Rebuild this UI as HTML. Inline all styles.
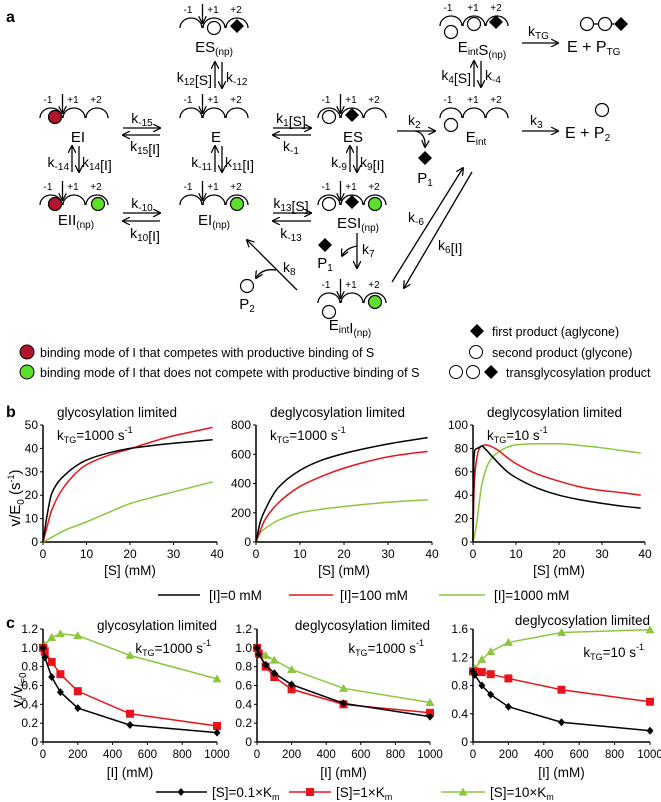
<!DOCTYPE html>
<html><head><meta charset="utf-8">
<style>
html,body{margin:0;padding:0;background:#fff;}
svg{display:block;font-family:"Liberation Sans",Arial,sans-serif;}
</style></head>
<body>
<svg id="fig" width="661" height="802" viewBox="0 0 661 802" xmlns="http://www.w3.org/2000/svg">
<defs>
<marker id="ah" viewBox="0 0 10 10" refX="9" refY="5" markerWidth="6" markerHeight="6" orient="auto-start-reverse"><path d="M0,0 L10,5 L0,10" fill="none" stroke="#000" stroke-width="1.6"/></marker>
</defs>
<g id="diagram" stroke-width="1.3">
<text x="6" y="22" font-weight="bold" font-size="16">a</text>
</g>
<g id="legendA"></g>
<g id="panelB"></g>
<g id="panelC"></g>
</svg>
<script>
// ---------- DATA ----------
const bS = [0,1,2,5,10,15,20,25,30,35,39];
const b1Black = [0,12,20.7,28.6,35,38,40,41.2,42.2,43,43.7];
const b1Red = [0,7,13.6,24,33,37,39.8,42.8,45.4,47.4,49];
const b1Green = [0,1,2,5,8.6,12.6,16.4,19,21.4,23.8,25.7];
const b2Black = [0,140,215,370,490,560,605,640,670,695,714];
const b2Red = [0,80,150,265,380,450,505,548,582,605,619];
const b2Green = [0,65,91,147,200,225,243,258,272,282,288];
const b3S = [0,0.2,0.5,1,1.5,2,3,4,6,8,10,15,20,25,30,35,39];
const b3Black = [0,70,79,80,81,82,79,75,67,60,55,46,40,36,33,30.5,29];
const b3Red = [0,40,60,74,80,82,83,82,78,72,67,58,52,47,44,42,40];
const b3Green = [0,3,8,20,35,48,62,70,77,81,83,84,84,82.5,80.5,78,76];
const bXTicks = [0,10,20,30,40];
const b1YTicks = [0,10,20,30,40,50];
const b2YTicks = [0,200,400,600,800];
const b3YTicks = [0,20,40,60,80,100];

const cI = [0,10,50,100,200,500,1000];
const c1Black = [1,0.9,0.69,0.53,0.36,0.18,0.1];
const c1Red = [1,0.96,0.85,0.72,0.54,0.3,0.17];
const c1Green = [1,1.03,1.11,1.15,1.13,0.92,0.67];
const c2Black = [1,0.93,0.82,0.73,0.61,0.41,0.27];
const c2Red = [1,0.94,0.8,0.69,0.56,0.4,0.31];
const c2Green = [1,0.97,0.92,0.87,0.77,0.57,0.42];
const c3Black = [1,0.95,0.8,0.67,0.5,0.28,0.16];
const c3Red = [1,1,0.99,0.96,0.9,0.74,0.57];
const c3Green = [1,1.04,1.17,1.28,1.41,1.55,1.59];
const cXTicks = [0,200,400,600,800,1000];
const c12YTicks = [0,0.2,0.4,0.6,0.8,1.0,1.2];
const c12YLabels = ["0","0.2","0.4","0.6","0.8","1.0","1.2"];
const c3YTicks = [0,0.4,0.8,1.2,1.6];
const c3YLabels = ["0","0.4","0.8","1.2","1.6"];

const BLACK="#000", RED="#e8141b", GREEN="#8cc63f";
const NS="http://www.w3.org/2000/svg";
function el(tag, attrs, parent){const e=document.createElementNS(NS,tag);for(const k in attrs)e.setAttribute(k,attrs[k]);parent.appendChild(e);return e;}
function txt(parent,x,y,s,size,anchor){const t=el('text',{x:x,y:y,'font-size':size,'text-anchor':anchor||'start'},parent);t.textContent=s;return t;}
function linScale(d0,d1,r0,r1){return v=>r0+(v-d0)/(d1-d0)*(r1-r0);}
function smoothPath(P){
  const n=P.length; const dx=[],m=[],t=[];
  for(let i=0;i<n-1;i++){dx[i]=P[i+1][0]-P[i][0];m[i]=(P[i+1][1]-P[i][1])/dx[i];}
  t[0]=m[0];t[n-1]=m[n-2];
  for(let i=1;i<n-1;i++){ if(m[i-1]*m[i]<=0) t[i]=0; else { const w1=2*dx[i]+dx[i-1], w2=dx[i]+2*dx[i-1]; t[i]=(w1+w2)/(w1/m[i-1]+w2/m[i]); } }
  let d='M'+P[0][0]+' '+P[0][1];
  for(let i=0;i<n-1;i++){const h=dx[i]/3;
    d+=` C${P[i][0]+h} ${P[i][1]+t[i]*h} ${P[i+1][0]-h} ${P[i+1][1]-t[i+1]*h} ${P[i+1][0]} ${P[i+1][1]}`;}
  return d;
}

// ---------- PANEL B ----------
const pB=document.getElementById('panelB');
const bLab=txt(pB,6,417,'b',16);bLab.setAttribute('font-weight','bold');


const yl=el('text',{transform:'translate(20,498) rotate(-90)','font-size':15,'text-anchor':'middle'},pB);


yl.innerHTML='v/E<tspan font-size="10" dy="4">0</tspan><tspan dy="-4"> (s</tspan><tspan font-size="9" dy="-6">-1</tspan><tspan dy="6">)</tspan>';

function drawB(x0,x1,ymax,yTicks,title,ktg,xs,series){
  const g=el('g',{},pB);
  
  
  const X=linScale(0,40,x0,x1), Y=linScale(0,ymax,542,425);
  el('line',{x1:x0,y1:425,x2:x0,y2:542,stroke:'#000','stroke-width':1.5},g);
  el('line',{x1:x0,y1:542,x2:x1,y2:542,stroke:'#000','stroke-width':1.5},g);
  yTicks.forEach(v=>{el('line',{x1:x0-3,y1:Y(v),x2:x0,y2:Y(v),stroke:'#000'},g);const t=txt(g,x0-5,Y(v)+4,String(v),12,'end');});
  bXTicks.forEach(v=>{el('line',{x1:X(v),y1:542,x2:X(v),y2:545,stroke:'#000'},g);const t=txt(g,X(v),558,String(v),12,'middle');});
  const xt=txt(g,(x0+x1)/2,575,'[S] (mM)',13.5,'middle');
  
  
  const tt=txt(g,x0+14,417,title,13.5,'start');
  
  
  const kt=el('text',{x:x0+14,y:440,'font-size':13.5},g);
  kt.innerHTML='k<tspan font-size="9" dy="3">TG</tspan><tspan dy="-3">='+ktg+' s</tspan><tspan font-size="9" dy="-7">-1</tspan>';
  
  
  series.forEach(s=>{
    const p=el('path',{d:smoothPath(xs.map((v,i)=>[X(v),Y(s.v[i])])),fill:'none',stroke:s.c,'stroke-width':1.5},g);
    
    
  });
}
drawB(43,217,50,b1YTicks,'glycosylation limited','1000',bS,[{v:b1Green,c:GREEN,n:'i1000'},{v:b1Red,c:RED,n:'i100'},{v:b1Black,c:BLACK,n:'i0'}]);
drawB(256,432,800,b2YTicks,'deglycosylation limited','1000',bS,[{v:b2Green,c:GREEN,n:'i1000'},{v:b2Red,c:RED,n:'i100'},{v:b2Black,c:BLACK,n:'i0'}]);
drawB(473,645,100,b3YTicks,'deglycosylation limited','10',b3S,[{v:b3Green,c:GREEN,n:'i1000'},{v:b3Red,c:RED,n:'i100'},{v:b3Black,c:BLACK,n:'i0'}]);

const legB=[[158,200,209,BLACK,'[I]=0 mM'],[289,333,340,RED,'[I]=100 mM'],[439,485,494,GREEN,'[I]=1000 mM']];
legB.forEach(l=>{const g=el('g',{},pB);
  
  
  el('line',{x1:l[0],y1:595,x2:l[1],y2:595,stroke:l[3],'stroke-width':1.6},g);txt(g,l[2],600,l[4],13.5);});

// ---------- PANEL C ----------
const pC=document.getElementById('panelC');
const cLab=txt(pC,6,628,'c',16);cLab.setAttribute('font-weight','bold');


const yc=el('text',{transform:'translate(22,690) rotate(-90)','font-size':15,'text-anchor':'middle'},pC);


yc.innerHTML='v<tspan font-size="10" dy="4">i</tspan><tspan dy="-4">/v</tspan><tspan font-size="10" dy="4">i=0</tspan>';

function marker(g,type,x,y,c){
  let m;
  if(type==='d') m=el('path',{d:`M${x} ${y-4}L${x+3.5} ${y}L${x} ${y+4}L${x-3.5} ${y}Z`,fill:c},g);
  else if(type==='s') m=el('rect',{x:x-4,y:y-4,width:8,height:8,fill:c},g);
  else m=el('path',{d:`M${x} ${y-4.5}L${x+4.5} ${y+3.5}L${x-4.5} ${y+3.5}Z`,fill:c},g);
  
  
}
function drawC(x0,x1,ymax,yTicks,yLabels,title,ktg,tY,kY,series){
  const g=el('g',{},pC);
  
  
  const X=linScale(0,1000,x0,x1), Y=linScale(0,ymax,742,629);
  el('line',{x1:x0,y1:629,x2:x0,y2:742,stroke:'#000','stroke-width':1.5},g);
  el('line',{x1:x0,y1:742,x2:x1,y2:742,stroke:'#000','stroke-width':1.5},g);
  yTicks.forEach((v,i)=>{el('line',{x1:x0-3,y1:Y(v),x2:x0,y2:Y(v),stroke:'#000'},g);const t=txt(g,x0-5,Y(v)+4,yLabels[i],12,'end');});
  cXTicks.forEach(v=>{el('line',{x1:X(v),y1:742,x2:X(v),y2:745,stroke:'#000'},g);const t=txt(g,X(v),758,String(v),11.5,'middle');});
  const xt=txt(g,(x0+x1)/2,777,'[I] (mM)',13.5,'middle');
  
  
  const tt=txt(g,x1,tY,title,13.5,'end');
  
  
  const kt=el('text',{x:x1-6,y:kY,'font-size':13.5,'text-anchor':'end'},g);
  kt.innerHTML='k<tspan font-size="9" dy="3">TG</tspan><tspan dy="-3">='+ktg+' s</tspan><tspan font-size="9" dy="-7">-1</tspan>';
  
  
  series.forEach(s=>{
    const p=el('polyline',{points:cI.map((v,i)=>X(v)+','+Y(s.v[i])).join(' '),fill:'none',stroke:s.c,'stroke-width':1.5},g);
    
    
    cI.forEach((v,i)=>marker(g,s.m,X(v),Y(s.v[i]),s.c));
  });
}
drawC(43,217,1.2,c12YTicks,c12YLabels,'glycosylation limited','1000',630,653,[{v:c1Green,c:GREEN,m:'t',n:'s10km'},{v:c1Red,c:RED,m:'s',n:'s1km'},{v:c1Black,c:BLACK,m:'d',n:'s01km'}]);
drawC(257,430,1.2,c12YTicks,c12YLabels,'deglycosylation limited','1000',630,653,[{v:c2Green,c:GREEN,m:'t',n:'s10km'},{v:c2Red,c:RED,m:'s',n:'s1km'},{v:c2Black,c:BLACK,m:'d',n:'s01km'}]);
drawC(473,650,1.6,c3YTicks,c3YLabels,'deglycosylation limited','10',625,657,[{v:c3Green,c:GREEN,m:'t',n:'s10km'},{v:c3Red,c:RED,m:'s',n:'s1km'},{v:c3Black,c:BLACK,m:'d',n:'s01km'}]);

const legC=[[156,207,181,BLACK,'d','0.1'],[289,331,310,RED,'s','1'],[441,485,463,GREEN,'t','10']];
legC.forEach(l=>{const g=el('g',{},pC);
  
  
  el('line',{x1:l[0],y1:792,x2:l[1],y2:792,stroke:l[3],'stroke-width':1.6},g);marker(g,l[4],l[2],792,l[3]);
  const t=el('text',{x:l[1]+5,y:797,'font-size':13.5},g);t.innerHTML='[S]='+l[5]+'×K<tspan font-size="9" dy="3">m</tspan>';});

// ---------- PANEL A (scheme) ----------
const D=document.getElementById('diagram');
function enzyme(x,y,name,arrow){
  const g=el('g',{fill:'none',stroke:'#000','stroke-width':1.3},D);
  
  
  el('path',{d:`M${x-11} ${y} A11 10 0 0 1 ${x+11} ${y} M${x+12} ${y} A11 10 0 0 1 ${x+34} ${y} M${x+35} ${y} A11 10 0 0 1 ${x+57} ${y}`},g);
  if(arrow!==false) el('line',{x1:x+11.5,y1:y-24,x2:x+11.5,y2:y-5,'marker-end':'url(#ah)'},g);
  [[x-3,'-1'],[x+22,'+1'],[x+45,'+2']].forEach(p=>{const t=txt(g,p[0],y-15,p[1],10,'middle');t.setAttribute('stroke','none');t.setAttribute('fill','#000');});
  return g;
}
function circ(x,y,fill){el('circle',{cx:x,cy:y,r:6.5,fill:fill||'#fff',stroke:'#000','stroke-width':1.2},D);}
function dia(x,y){el('path',{d:`M${x} ${y-7}L${x+7} ${y}L${x} ${y+7}L${x-7} ${y}Z`,fill:'#000'},D);}
function arrow(x1,y1,x2,y2){el('line',{x1:x1,y1:y1,x2:x2,y2:y2,stroke:'#000','stroke-width':1.3,'marker-end':'url(#ah)'},D);}
function lbl(x,y,html,anchor,size){const t=el('text',{x:x,y:y,'font-size':size||14,'text-anchor':anchor||'start'},D);t.innerHTML=html;return t;}
const RD="#b5122b", GN="#5ee02a";
function sub(s){return '<tspan font-size="10" dy="3">'+s+'</tspan><tspan dy="-3"></tspan>';}

// Row 1
enzyme(191,28,'enzyme-es-np');circ(214,28);dia(237,26);lbl(214,52,'ES'+sub('(np)'),'middle',15);
arrow(215,88,215,62);arrow(222,62,222,88);lbl(212,82,'k'+sub('12')+'[S]','end');lbl(226,82,'k'+sub('-12'),'start');
enzyme(51,118,'enzyme-ei');circ(55,117,RD);lbl(78,142,'EI','middle',15);
enzyme(191,118,'enzyme-e');lbl(216,142,'E','middle',15);
arrow(123,128,160,128);arrow(160,135,123,135);lbl(142,123,'k'+sub('-15'),'middle');lbl(145,151,'k'+sub('15')+'[I]','middle');
arrow(273,128,311,128);arrow(311,135,273,135);lbl(291,123,'k'+sub('1')+'[S]','middle');lbl(291,151,'k'+sub('-1'),'middle');
enzyme(329,118,'enzyme-es');circ(329,117);dia(352,115);lbl(353,142,'ES','middle',15);
arrow(397,131,435,131);lbl(408,125,'k'+sub('2'),'start');
el('path',{d:'M415 131 Q426 133 425 147',fill:'none',stroke:'#000','stroke-width':1.3,'marker-end':'url(#ah)'},D);
dia(425,158);lbl(425,183,'P'+sub('1'),'middle',15);
enzyme(451,118,'enzyme-eint',false);circ(451,125);lbl(476,142,'E'+sub('int'),'middle',15);
arrow(522,131,558,131);lbl(530,125,'k'+sub('3'),'start');lbl(565,138,'E + P'+sub('2'),'start',16);circ(602,110);
enzyme(451,26,'enzyme-eint-s-np',false);circ(451,32);circ(474,24);dia(496,22);lbl(482,52,'E'+sub('int')+'S'+sub('(np)'),'middle',15);
arrow(522,43,558,43);lbl(528,36,'k'+sub('TG'),'start');lbl(567,52,'E + P'+sub('TG'),'start',16);
circ(587,24);el('line',{x1:593,y1:24,x2:599,y2:24,stroke:'#000'},D);circ(605,24);el('line',{x1:611,y1:24,x2:614,y2:24,stroke:'#000'},D);dia(621,24);
arrow(474,87,474,61);arrow(481,61,481,87);lbl(471,80,'k'+sub('4')+'[S]','end');lbl(485,80,'k'+sub('-4'),'start');
// verticals
arrow(72,172,72,146);arrow(79,146,79,172);lbl(69,167,'k'+sub('-14'),'end');lbl(82,167,'k'+sub('14')+'[I]','start');
arrow(215,172,215,146);arrow(222,146,222,172);lbl(212,167,'k'+sub('-11'),'end');lbl(225,167,'k'+sub('11')+'[I]','start');
arrow(350,172,350,146);arrow(357,146,357,172);lbl(347,167,'k'+sub('-9'),'end');lbl(360,167,'k'+sub('9')+'[I]','start');
// Row 3
enzyme(51,205,'enzyme-eii-np');circ(55,204,RD);circ(98,204,GN);lbl(76,225,'EII'+sub('(np)'),'middle',15);
arrow(123,213,160,213);arrow(160,221,123,221);lbl(142,208,'k'+sub('-10'),'middle');lbl(145,238,'k'+sub('10')+'[I]','middle');
enzyme(191,205,'enzyme-ei-np');circ(237,204,GN);lbl(214,225,'EI'+sub('(np)'),'middle',15);
arrow(273,213,311,213);arrow(311,221,273,221);lbl(291,208,'k'+sub('13')+'[S]','middle');lbl(291,238,'k'+sub('-13'),'middle');
enzyme(329,205,'enzyme-esi-np');circ(329,204);dia(352,202);circ(375,204,GN);lbl(358,228,'ESI'+sub('(np)'),'middle',15);
arrow(357,233,357,268);lbl(362,254,'k'+sub('7'),'start');
el('path',{d:'M357 246 Q346 248 342 256',fill:'none',stroke:'#000','stroke-width':1.3,'marker-end':'url(#ah)'},D);
dia(325,245);lbl(325,268,'P'+sub('1'),'middle',15);
enzyme(329,303,'enzyme-eint-i-np');circ(329,312);circ(375,302,GN);lbl(350,330,'E'+sub('int')+'I'+sub('(np)'),'middle',15);
arrow(297,290,247,240);lbl(283,272,'k'+sub('8'),'start');
el('path',{d:'M276 270 Q262 268 256 278',fill:'none',stroke:'#000','stroke-width':1.3,'marker-end':'url(#ah)'},D);
circ(247,286);lbl(247,309,'P'+sub('2'),'middle',15);
arrow(392,282,463,168);arrow(472,172,404,288);lbl(408,222,'k'+sub('-6'),'start');lbl(438,250,'k'+sub('6')+'[I]','start');

// legend A
const LA=document.getElementById('legendA');
function legA(name,draw,x,y,s){const g=el('g',{},LA);
  
  
  draw(g);const t=txt(g,x,y,s,12.5);}
legA('legend-competing-binding',g=>el('circle',{cx:27,cy:352,r:7,fill:RD,stroke:'#000'},g),40,357,'binding mode of I that competes with productive binding of S');
legA('legend-noncompeting-binding',g=>el('circle',{cx:27,cy:372,r:7,fill:GN,stroke:'#000'},g),40,377,'binding mode of I that does not compete with productive binding of S');
legA('legend-first-product',g=>el('path',{d:'M477 324L484 331L477 338L470 331Z',fill:'#000'},g),492,336,'first product (aglycone)');
legA('legend-second-product',g=>el('circle',{cx:476,cy:352,r:6.5,fill:'#fff',stroke:'#000'},g),492,357,'second product (glycone)');
legA('legend-transglycosylation-product',g=>{el('circle',{cx:456,cy:372,r:6.5,fill:'#fff',stroke:'#000'},g);el('circle',{cx:473,cy:372,r:6.5,fill:'#fff',stroke:'#000'},g);el('path',{d:'M491 365L498 372L491 379L484 372Z',fill:'#000'},g);},506,377,'transglycosylation product');
</script>
</body></html>
